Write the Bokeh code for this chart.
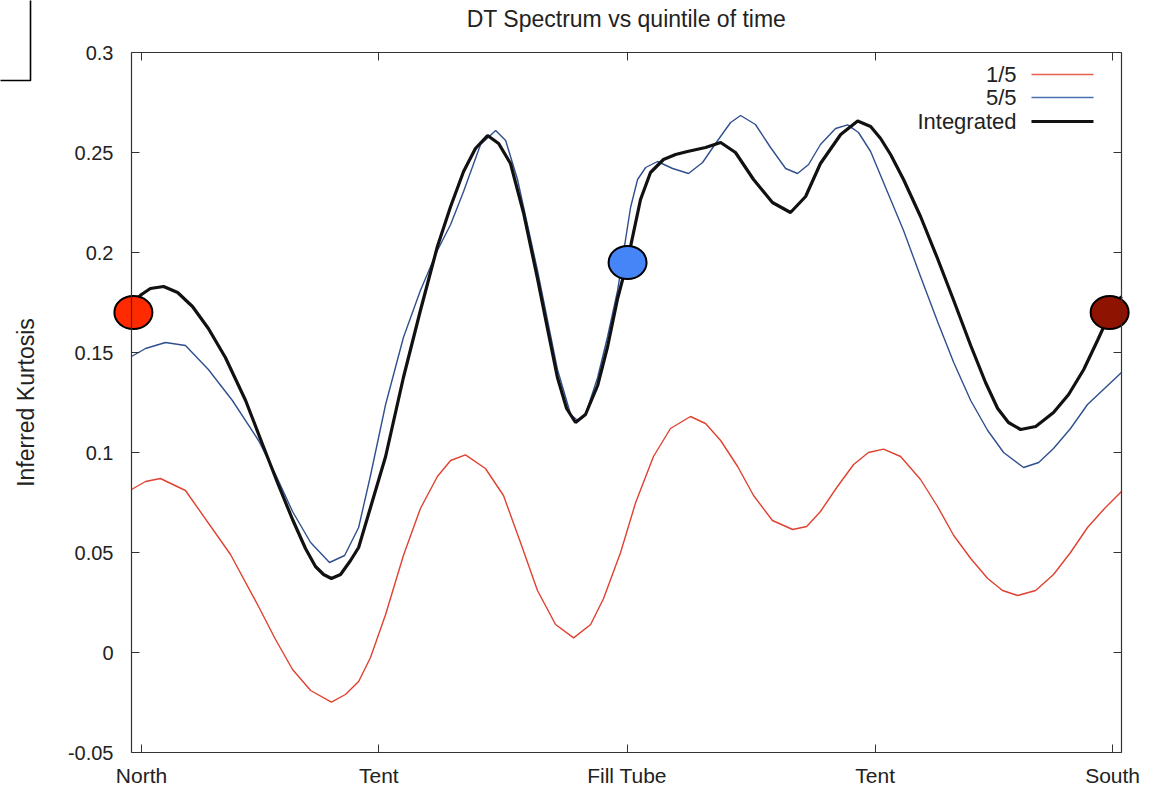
from bokeh.plotting import figure
from bokeh.models import (LinearAxis, FixedTicker, Label, Range1d, BoxAnnotation,
                          PrintfTickFormatter, CustomJSTickFormatter)
from bokeh.embed import file_html
from bokeh.resources import INLINE

# ---------------- data ----------------
TITLE = "DT Spectrum vs quintile of time"
Y_LABEL = "Inferred Kurtosis"

x_tick_positions = [0, 88, 180, 272, 360]          # position around (degrees)
x_tick_labels = ["North", "Tent", "Fill Tube", "Tent", "South"]
y_ticks = [-0.05, 0, 0.05, 0.1, 0.15, 0.2, 0.25, 0.3]
x_limits = (-3.7, 363.3)
y_limits = (-0.05, 0.3)

series_names = ["1/5", "5/5", "Integrated"]
series_colors = ["#e0412f", "#2f4f8f", "#111111"]

# 1/5 quintile
x_q1 = [-3.7, 1.5, 7.0, 16.3, 33.0, 43.4, 49.7, 56.0, 62.7, 70.4, 75.6, 80.5, 84.9,
        90.5, 97.1, 103.4, 109.7, 114.6, 120.1, 127.5, 134.2, 140.5, 146.8, 153.5,
        160.2, 166.5, 171.3, 177.6, 183.2, 189.8, 196.1, 203.5, 209.1, 214.7, 221.0,
        226.9, 233.9, 241.4, 246.6, 251.7, 258.0, 264.0, 269.5, 275.1, 281.4, 288.8,
        295.1, 301.1, 307.4, 313.7, 319.2, 324.8, 331.5, 338.1, 344.4, 350.7, 357.0,
        363.3]
y_q1 = [0.0815, 0.0855, 0.0870, 0.0810, 0.0490, 0.0230, 0.0065, -0.0085, -0.0190,
        -0.0248, -0.0210, -0.0145, -0.0025, 0.0190, 0.0485, 0.0720, 0.0880, 0.0960,
        0.0988, 0.0920, 0.0785, 0.0550, 0.0310, 0.0140, 0.0073, 0.0140, 0.0270,
        0.0500, 0.0750, 0.0980, 0.1120, 0.1180, 0.1145, 0.1060, 0.0930, 0.0785,
        0.0660, 0.0615, 0.0630, 0.0705, 0.0830, 0.0940, 0.1000, 0.1017, 0.0980,
        0.0865, 0.0730, 0.0585, 0.0470, 0.0370, 0.0310, 0.0285, 0.0310, 0.0390,
        0.0500, 0.0625, 0.0720, 0.0805]

# 5/5 quintile
x_q5 = [-3.7, 1.5, 8.9, 16.3, 24.8, 33.7, 43.4, 49.7, 56.0, 62.7, 69.7, 75.3, 80.5,
        84.9, 90.5, 97.1, 103.4, 109.7, 114.6, 119.4, 125.7, 131.3, 135.0, 139.4,
        146.8, 154.2, 159.1, 161.7, 164.6, 169.1, 172.8, 176.5, 181.3, 183.9, 186.9,
        191.3, 196.9, 202.8, 208.0, 213.6, 218.4, 222.1, 227.6, 233.2, 238.8, 243.2,
        247.3, 251.7, 257.3, 261.8, 265.8, 270.3, 274.0, 282.5, 288.8, 295.1, 301.1,
        307.4, 313.7, 319.6, 327.0, 332.6, 338.1, 344.4, 350.7, 357.0, 363.3]
y_q5 = [0.1480, 0.1520, 0.1550, 0.1535, 0.1415, 0.1260, 0.1060, 0.0890, 0.0705,
        0.0550, 0.0450, 0.0485, 0.0625, 0.0885, 0.1240, 0.1575, 0.1810, 0.2010,
        0.2140, 0.2305, 0.2540, 0.2610, 0.2560, 0.2365, 0.1910, 0.1415, 0.1190,
        0.1160, 0.1190, 0.1375, 0.1580, 0.1810, 0.2225, 0.2365, 0.2425, 0.2455,
        0.2420, 0.2395, 0.2450, 0.2560, 0.2650, 0.2685, 0.2640, 0.2525, 0.2420,
        0.2395, 0.2440, 0.2540, 0.2620, 0.2638, 0.2600, 0.2505, 0.2385, 0.2110,
        0.1880, 0.1655, 0.1450, 0.1260, 0.1110, 0.1000, 0.0925, 0.0950, 0.1020,
        0.1120, 0.1240, 0.1320, 0.1400]

# Integrated
x_int = [-3.7, 0.0, 3.3, 8.2, 13.4, 18.9, 24.8, 31.1, 38.6, 44.9, 50.4, 56.0, 60.8,
         64.5, 67.5, 70.4, 73.8, 77.5, 80.5, 84.9, 90.5, 97.1, 103.4, 109.7, 114.6,
         119.4, 123.8, 128.3, 132.4, 136.8, 141.6, 146.8, 150.5, 154.2, 157.6, 160.9,
         164.6, 169.1, 172.8, 176.5, 180.2, 185.0, 188.7, 193.5, 198.0, 202.4, 209.1,
         214.7, 220.2, 226.9, 233.9, 240.6, 246.2, 251.7, 259.2, 265.5, 270.3, 274.0,
         277.7, 282.5, 288.8, 295.1, 301.1, 307.4, 312.9, 317.4, 321.4, 325.9, 331.5,
         338.1, 343.7, 349.3, 354.4, 359.3, 363.3]
y_int = [0.1740, 0.1790, 0.1820, 0.1830, 0.1800, 0.1730, 0.1620, 0.1475, 0.1260,
         0.1040, 0.0850, 0.0665, 0.0520, 0.0430, 0.0390, 0.0370, 0.0390, 0.0460,
         0.0525, 0.0725, 0.0980, 0.1375, 0.1710, 0.2030, 0.2230, 0.2405, 0.2520,
         0.2585, 0.2545, 0.2445, 0.2200, 0.1870, 0.1620, 0.1375, 0.1220, 0.1150,
         0.1190, 0.1335, 0.1530, 0.1770, 0.1960, 0.2265, 0.2400, 0.2465, 0.2490,
         0.2505, 0.2525, 0.2550, 0.2500, 0.2365, 0.2250, 0.2200, 0.2280, 0.2445,
         0.2590, 0.2657, 0.2630, 0.2570, 0.2490, 0.2365, 0.2180, 0.1970, 0.1760,
         0.1535, 0.1350, 0.1220, 0.1150, 0.1115, 0.1130, 0.1200, 0.1290, 0.1415,
         0.1560, 0.1705, 0.1780]

# highlighted points
marker_x = [-3.0, 180.2, 358.9]
marker_y = [0.170, 0.195, 0.170]
marker_colors = ["#ff2a00", "#4685f8", "#8e1300"]

# ---------------- layout (pixels) ----------------
W, H = 1158, 788
F_LEFT, F_RIGHT, F_TOP, F_BOTTOM = 131, 1121, 52, 752   # visible plot box

kx = (x_limits[1] - x_limits[0]) / (F_RIGHT - F_LEFT)
ky = (y_limits[1] - y_limits[0]) / (F_BOTTOM - F_TOP)

def px2x(px):
    return x_limits[0] + (px - F_LEFT) * kx

def py2y(py):
    return y_limits[1] - (py - F_TOP) * ky

FONT = "Liberation Sans"
TXT = "#222222"
AX = "#333333"

p = figure(width=W, height=H, output_backend="svg", toolbar_location=None,
           x_range=Range1d(px2x(0), px2x(W)), y_range=Range1d(py2y(H), py2y(0)),
           x_axis_location=None, y_axis_location=None,
           min_border_left=0, min_border_right=0, min_border_top=0,
           min_border_bottom=0)
p.grid.visible = False
p.outline_line_color = None
p.background_fill_color = "white"
p.border_fill_color = "white"

xt = FixedTicker(ticks=x_tick_positions)
yt = FixedTicker(ticks=y_ticks)
blank = CustomJSTickFormatter(code="return ''")

def style_axis(ax):
    ax.axis_line_color = AX
    ax.axis_line_width = 1.2
    ax.major_tick_line_color = AX
    ax.major_tick_in = 8
    ax.major_tick_out = 0
    ax.minor_tick_line_color = None
    ax.major_label_text_font = FONT
    ax.major_label_text_font_size = "21px"
    ax.major_label_text_color = TXT

xa = LinearAxis(ticker=xt, fixed_location=y_limits[0], bounds=x_limits)
xa.major_label_overrides = {pos: lab for pos, lab in zip(x_tick_positions, x_tick_labels)}
style_axis(xa)
xa.major_label_standoff = 11
p.add_layout(xa, "below")

ta = LinearAxis(ticker=xt, formatter=blank, fixed_location=y_limits[1], bounds=x_limits)
style_axis(ta)
ta.major_label_standoff = 0
p.add_layout(ta, "above")

ya = LinearAxis(ticker=yt, formatter=PrintfTickFormatter(format="%g"),
                fixed_location=x_limits[0], bounds=y_limits)
style_axis(ya)
ya.major_label_text_font_size = "20px"
ya.major_label_standoff = 18
ya.axis_label = Y_LABEL
ya.axis_label_text_font = FONT
ya.axis_label_text_font_size = "23px"
ya.axis_label_text_font_style = "normal"
ya.axis_label_text_color = TXT
ya.axis_label_standoff = 26
p.add_layout(ya, "left")

ra = LinearAxis(ticker=yt, formatter=blank, fixed_location=x_limits[1], bounds=y_limits)
style_axis(ra)
ra.major_label_standoff = 0
p.add_layout(ra, "right")

# title
p.add_layout(Label(x=px2x((F_LEFT + F_RIGHT) / 2), y=py2y(18), text=TITLE,
                   text_align="center", text_baseline="middle", text_font=FONT,
                   text_font_size="23px", text_color=TXT))

# curves
p.line(x_q1, y_q1, line_color=series_colors[0], line_width=1.4)
p.line(x_q5, y_q5, line_color=series_colors[1], line_width=1.4)
p.line(x_int, y_int, line_color=series_colors[2], line_width=3.2)

# highlighted ellipses
p.ellipse(x=marker_x, y=marker_y, width=38, height=33, width_units="screen",
          height_units="screen", fill_color=marker_colors, line_color="black",
          line_width=2)

# legend (gnuplot style: text then sample line, top right inside the frame)
leg_text_x = px2x(1016)
leg_line_x0, leg_line_x1 = px2x(1031), px2x(1093)
leg_rows_y = [py2y(74), py2y(97), py2y(121)]
leg_widths = [1.4, 1.4, 3.2]
leg_colors = ["#e8604c", "#4a6fb0", "#111111"]
for name, yy, c, w in zip(series_names, leg_rows_y, leg_colors, leg_widths):
    p.add_layout(Label(x=leg_text_x, y=yy, text=name, text_align="right",
                       text_baseline="middle", text_font=FONT,
                       text_font_size="22px", text_color=TXT))
    p.segment(x0=[leg_line_x0], y0=[yy], x1=[leg_line_x1], y1=[yy],
              line_color=c, line_width=w)

# partial box at the top-left corner of the page
p.add_layout(BoxAnnotation(left=px2x(-20), right=px2x(30), top=py2y(-20),
                           bottom=py2y(80), fill_alpha=0, line_color="black",
                           line_alpha=1.0, line_width=1.6))

open("out.html", "w").write(file_html(p, INLINE))
